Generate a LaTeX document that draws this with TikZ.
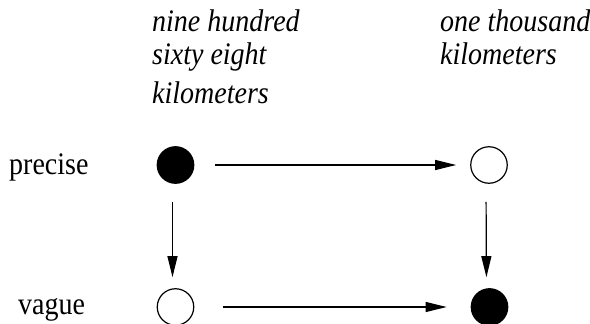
\documentclass[tikz,border=0pt]{standalone}
\usepackage{fontspec}
\setmainfont{Liberation Serif}
\usetikzlibrary{arrows.meta}
\newcommand{\tallx}[1]{\scalebox{1}[1.12]{#1}}
\begin{document}
\begin{tikzpicture}[x=1pt,y=-1pt,
  dot/.style={circle,draw=black,line width=1.2pt,minimum size=36.5pt,inner sep=0pt},
  full/.style={dot,fill=black},
  hollow/.style={dot,fill=white},
  conn/.style={line width=1.2pt,-{Triangle[length=21pt,width=10pt]}},
  lab/.style={anchor=base west,inner sep=0pt,font=\fontsize{28}{33}\selectfont},
  ilab/.style={lab,font=\fontsize{28}{33}\selectfont\itshape}]
\useasboundingbox (0,0) rectangle (590,324);
\node[full]   (tl) at (175.5,165) {};
\node[hollow] (tr) at (489,165) {};
\node[hollow] (bl) at (175.5,307) {};
\node[full]   (br) at (489.5,307) {};
\node[lab] (precise) at (9,174) {\tallx{precise}};
\node[lab] (vague) at (18,314) {\tallx{vague}};
\node[ilab] (a1) at (152,31) {\tallx{nine hundred}};
\node[ilab] (a2) at (152,64) {\tallx{sixty eight}};
\node[ilab] (a3) at (152,103) {\tallx{kilometers}};
\node[ilab] (b1) at (440,31) {\tallx{one thousand}};
\node[ilab] (b2) at (440,64) {\tallx{kilometers}};
\draw[conn,shorten <=21pt,shorten >=14pt] (tl) -- (tr);
\draw[conn,shorten <=29pt,shorten >=24pt] (bl) -- (br);
\draw[conn,shorten <=18pt,shorten >=11pt] ([xshift=-3pt]tl.south) -- ([xshift=-3pt]bl.north);
\draw[conn,shorten <=18pt,shorten >=11pt] ([xshift=-3pt]tr.south) -- ([xshift=-3pt]br.north);
\end{tikzpicture}
\end{document}
